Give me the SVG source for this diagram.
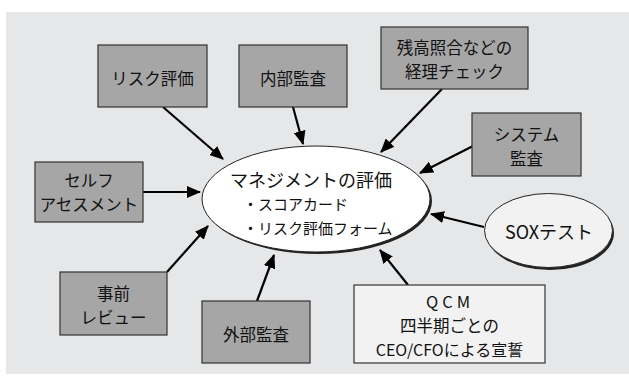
<svg xmlns="http://www.w3.org/2000/svg" width="629" height="376" viewBox="0 0 629 376">
<defs>
<marker id="ah" markerUnits="userSpaceOnUse" markerWidth="14" markerHeight="12" refX="13" refY="6" orient="auto">
<path d="M0,0 L14,6 L0,12 z" fill="#000"/>
</marker>
<style>
text{font-family:"Noto Sans CJK JP","Noto Sans",sans-serif;fill:#111;text-anchor:middle;dominant-baseline:central}
.box{fill:#a6a6a6;stroke:#333;stroke-width:1.2}
.lbox{fill:#f2f2f2;stroke:#333;stroke-width:1.2}
.t{font-size:16.5px}
.c line{stroke:#000;stroke-width:2.2;marker-end:url(#ah)}
.shadow{fill:#222}
.ell{stroke:#222;stroke-width:1}
</style>
</defs>
<rect x="0" y="0" width="629" height="376" fill="#ffffff"/>
<rect x="6" y="12" width="623" height="362" fill="#e6e7e9"/>

<g class="c" id="connectors">
<line x1="163" y1="107" x2="223" y2="159"/>
<line x1="293" y1="107" x2="303" y2="144"/>
<line x1="442" y1="89" x2="381" y2="152"/>
<line x1="473" y1="146" x2="420" y2="173"/>
<line x1="143" y1="192" x2="200" y2="192"/>
<line x1="167" y1="272" x2="208" y2="226"/>
<line x1="257" y1="301" x2="274" y2="255"/>
<line x1="408" y1="285" x2="380" y2="250"/>
<line x1="484" y1="227" x2="431" y2="214"/>
</g>

<g id="main">
<ellipse class="shadow" cx="318" cy="201" rx="114" ry="53"/>
<ellipse class="ell" cx="316" cy="199" rx="114" ry="53" fill="#fff"/>
<text x="311" y="179" style="font-size:18px">マネジメントの評価</text>
<text x="243" y="203" style="font-size:15px;text-anchor:start">・スコアカード</text>
<text x="243" y="227" style="font-size:15px;text-anchor:start">・リスク評価フォーム</text>
</g>

<g id="risk">
<rect class="box" x="98" y="45" width="109" height="62"/>
<text class="t" x="152.5" y="78">リスク評価</text>
</g>
<g id="internal">
<rect class="box" x="239" y="45" width="108" height="62"/>
<text class="t" x="293" y="78">内部監査</text>
</g>
<g id="accounting">
<rect class="box" x="381" y="27" width="147" height="62"/>
<text class="t" x="454.5" y="47">残高照合などの</text>
<text class="t" x="454.5" y="71">経理チェック</text>
</g>
<g id="system">
<rect class="box" x="472" y="113" width="109" height="63"/>
<text class="t" x="526.5" y="134">システム</text>
<text class="t" x="526.5" y="158">監査</text>
</g>
<g id="self">
<rect class="box" x="35" y="162" width="108" height="60"/>
<text class="t" x="89" y="180">セルフ</text>
<text class="t" x="89" y="204">アセスメント</text>
</g>
<g id="prereview">
<rect class="box" x="60" y="272" width="107" height="63"/>
<text class="t" x="113.5" y="292.5">事前</text>
<text class="t" x="113.5" y="316.5">レビュー</text>
</g>
<g id="external">
<rect class="box" x="202" y="301" width="108" height="62"/>
<text class="t" x="256" y="334">外部監査</text>
</g>
<g id="qcm">
<rect class="lbox" x="354" y="285" width="191" height="78"/>
<text class="t" x="450" y="301" style="letter-spacing:4px">QCM</text>
<text class="t" x="449.5" y="325">四半期ごとの</text>
<text class="t" x="449.5" y="349" style="font-size:16px">CEO/CFOによる宣誓</text>
</g>
<g id="sox">
<ellipse class="shadow" cx="550" cy="233" rx="64" ry="37"/>
<ellipse class="ell" cx="548.5" cy="230.5" rx="64" ry="37" fill="#f2f2f2"/>
<text x="549" y="231" style="font-size:18px">SOXテスト</text>
</g>
</svg>
